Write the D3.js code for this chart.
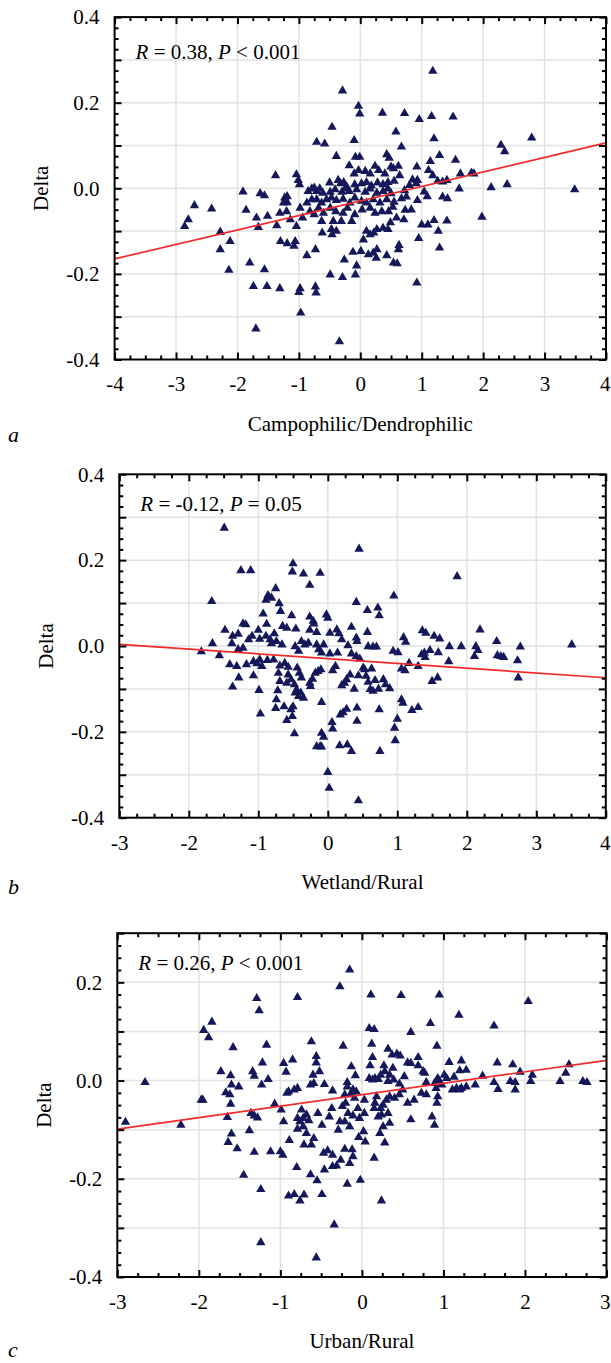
<!DOCTYPE html>
<html><head><meta charset="utf-8">
<script src="https://cdn.jsdelivr.net/npm/d3@7"></script>
<style>body{margin:0;background:#fff}svg{display:block}text{font-family:"Liberation Serif","DejaVu Serif","Times New Roman",serif;fill:#000}</style>
</head><body><svg id="chart" width="611" height="1363"></svg>
<script>
// ---------- data ----------
const pointsA = [
[-0.29,0.231],[-0.03,0.195],[-0.01,0.177],[0.36,0.179],[-0.46,0.146],[-0.71,0.111],[-0.58,0.107],[-0.10,0.115],[-0.39,0.078],[-0.08,0.076],[-0.01,0.076],[0.43,0.082],[-1.38,0.033],[-1.04,0.035],[-1.01,0.022],[-0.99,0.012],[-0.18,0.056],
[-0.10,0.037],[-0.03,0.045],[0.08,0.043],[0.16,0.037],[0.24,0.055],[0.30,0.045],[0.40,0.037],
[-0.50,0.016],[-0.36,0.022],[-0.32,0.014],[-0.27,0.017],[-0.22,0.006],[-0.09,0.012],[0.02,0.014],[0.10,0.017],[0.18,0.009],[0.28,0.016],[0.37,0.012],[0.45,0.017],
[-1.91,-0.005],[-1.63,-0.009],[-1.56,-0.014],[-1.23,-0.019],[-1.19,-0.016],[-0.85,-0.004],[-0.79,0.002],[-0.75,0.004],[-0.71,-0.004],[-0.66,0.002],[-0.61,-0.008],[-0.49,-0.006],[-0.41,0.000],[-0.30,-0.006],[-0.25,0.002],[-0.18,-0.004],[-0.06,0.000],[0.08,-0.006],[0.16,0.002],[0.27,-0.008],[0.37,-0.004],[0.45,0.002],
[-1.25,-0.031],[-1.19,-0.030],[-0.98,-0.043],[-0.87,-0.031],[-0.79,-0.023],[-0.71,-0.023],[-0.63,-0.031],[-0.55,-0.023],[-0.47,-0.019],[-0.39,-0.025],[-0.28,-0.022],[-0.17,-0.031],[-0.09,-0.019],[0.02,-0.027],[0.10,-0.031],[0.21,-0.023],[0.32,-0.031],[0.43,-0.023],
[-2.70,-0.037],[-2.42,-0.045],[-1.86,-0.048],[-1.31,-0.055],[-1.20,-0.051],[-0.94,-0.066],[-0.82,-0.051],[-0.75,-0.058],[-0.68,-0.043],[-0.60,-0.055],[-0.49,-0.043],[-0.40,-0.051],[-0.28,-0.055],[-0.21,-0.043],[-0.09,-0.058],[0.03,-0.047],[0.16,-0.043],[0.24,-0.055],[0.35,-0.051],[0.46,-0.051],
[-2.80,-0.070],[-1.69,-0.066],[-1.51,-0.062],[-1.14,-0.070],[-0.63,-0.074],[-0.44,-0.074],[-0.31,-0.074],[-0.14,-0.074],
[-2.86,-0.086],[-2.28,-0.099],[-1.66,-0.088],[-1.36,-0.084],[-1.04,-0.086],[-0.62,-0.101],[-0.47,-0.093],[-0.46,-0.105],[-0.39,-0.097],[0.05,-0.117],[0.10,-0.097],[0.16,-0.105],[0.22,-0.101],[0.27,-0.093],[0.37,-0.090],[0.45,-0.093],
[-2.12,-0.121],[-2.28,-0.140],[-1.30,-0.121],[-1.19,-0.126],[-1.08,-0.132],[-1.06,-0.121],[-0.73,-0.140],[-0.87,-0.154],[-0.12,-0.146],[0.01,-0.144],[0.13,-0.152],[0.21,-0.148],[0.27,-0.140],[0.26,-0.160],[0.43,-0.154],
[-1.80,-0.171],[-2.14,-0.188],[-1.56,-0.187],[-0.26,-0.164],[-0.06,-0.178],[-0.08,-0.199],[-0.49,-0.199],[-0.29,-0.205],[-1.74,-0.226],[-1.52,-0.226],[-1.31,-0.231],[-0.98,-0.231],[-1.00,-0.240],[-0.73,-0.227],[-0.72,-0.241],
[-0.97,-0.288],[-1.70,-0.325],[-0.34,-0.355],
[1.18,0.277],[0.72,0.178],[0.96,0.164],[1.16,0.171],[1.51,0.170],[0.58,0.135],[1.20,0.119],[0.67,0.100],[2.79,0.121],[2.29,0.104],[2.35,0.089],[1.29,0.080],[1.55,0.069],[1.14,0.066],[0.47,0.074],[0.50,0.053],[0.62,0.055],[0.92,0.053],[0.54,0.049],[1.11,0.045],[0.64,0.033],[1.18,0.033],[1.63,0.037],[1.81,0.039],[1.85,0.037],[0.85,0.023],[0.93,0.022],[0.55,0.020],[1.26,0.020],[1.34,0.018],[1.41,0.022],[2.13,0.005],[2.39,0.012],[3.49,0.000],[1.61,0.002],[0.80,0.010],[0.91,0.014],[1.04,-0.005],[1.09,-0.016],[0.72,-0.002],[0.67,-0.021],[0.93,-0.025],[0.75,-0.017],[0.50,-0.009],[1.34,-0.017],[1.42,-0.021],[0.53,-0.041],[0.55,-0.029],[0.73,-0.048],[0.83,-0.047],[0.59,-0.066],[0.71,-0.070],[0.49,-0.077],[1.00,-0.082],[1.10,-0.082],[1.20,-0.072],[1.41,-0.073],[1.27,-0.097],[1.98,-0.064],[0.95,-0.114],[0.63,-0.130],[0.62,-0.140],[1.29,-0.136],[0.54,-0.171],[0.60,-0.173],[0.92,-0.218]
];
const pointsB = [
[-1.49,0.278],[0.45,0.229],[-1.25,0.179],[-1.11,0.179],[-0.50,0.195],[-0.51,0.176],[-0.35,0.171],[-0.11,0.173],[-0.26,0.145],[0.95,0.120],[-1.67,0.107],[-0.75,0.137],[-0.86,0.121],[-0.89,0.110],[-0.81,0.115],[-0.70,0.102],[-0.68,0.084],[0.41,0.105],[0.57,0.086],[0.72,0.092],[0.74,0.074],[-0.93,0.078],[-0.52,0.074],[-0.26,0.071],[-0.21,0.061],[-0.20,0.055],[-0.02,0.076],[0.00,0.068],[-0.88,0.054],[-1.22,0.055],[-1.18,0.053],[-1.48,0.040],[-1.00,0.040],[-0.65,0.049],[-0.59,0.045],[-0.46,0.043],[-0.26,0.040],[-0.16,0.035],[0.03,0.033],[0.13,0.041],[0.16,0.032],[0.20,0.018],[0.34,0.047],[0.41,0.022],[0.42,0.014],[0.57,0.035],[1.09,0.023],
[-1.37,0.026],[-1.29,0.031],[-1.38,0.009],[-1.66,0.009],[-1.14,0.018],[-1.09,0.026],[-0.98,0.019],[-0.89,0.026],[-0.83,0.018],[-0.77,0.032],[-0.74,0.014],[-0.81,0.009],[-0.66,0.006],[-0.47,0.002],[-0.42,-0.009],[-0.38,0.014],[-0.33,0.006],[-0.28,0.010],[-0.16,0.006],[-0.13,-0.005],[-0.06,0.006],[-0.09,-0.013],[0.03,-0.015],[0.14,-0.013],[0.29,0.004],[0.34,-0.015],[0.41,-0.021],[0.46,-0.027],[0.58,0.002],[0.70,0.001],[0.65,0.001],[0.94,-0.009],[1.01,-0.012],[-1.82,-0.010],[-1.56,-0.019],[-1.29,-0.005],[-1.22,-0.002],
[-1.41,-0.040],[-1.31,-0.044],[-1.17,-0.040],[-1.07,-0.033],[-1.02,-0.038],[-0.95,-0.044],[-0.98,-0.029],[-0.87,-0.030],[-0.78,-0.029],[-0.69,-0.043],[-0.62,-0.037],[-0.57,-0.046],[-1.28,-0.071],[-1.37,-0.092],[-1.07,-0.066],[-0.99,-0.100],[-0.97,-0.155],[-0.71,-0.060],[-0.69,-0.079],[-0.72,-0.101],[-0.59,-0.083],[-0.57,-0.064],[-0.53,-0.075],[-0.48,-0.087],[-0.47,-0.106],[-0.45,-0.099],[-0.42,-0.114],[-0.39,-0.106],[-0.35,-0.118],[-0.44,-0.048],[-0.41,-0.060],[-0.38,-0.071],[-0.26,-0.083],[-0.22,-0.074],[-0.18,-0.060],[-0.14,-0.056],[-0.10,-0.052],[-0.25,-0.091],[-0.74,-0.122],[-0.75,-0.142],[-0.63,-0.138],[-0.53,-0.145],[-0.50,-0.138],[-0.51,-0.161],[-0.59,-0.170],[-0.48,-0.201],[-0.09,-0.128],[0.07,-0.054],[0.11,-0.044],[0.20,-0.089],[0.24,-0.083],[0.27,-0.075],[0.32,-0.064],[0.38,-0.097],[0.44,-0.066],[0.53,-0.052],[0.55,-0.067],[0.58,-0.081],[0.61,-0.098],[0.65,-0.102],[0.68,-0.077],[0.73,-0.097],[0.80,-0.075],[0.83,-0.087],[0.89,-0.096],[0.51,-0.048],[0.63,-0.050],[0.18,-0.157],[0.22,-0.152],[0.27,-0.144],[0.42,-0.141],[0.42,-0.172],[0.74,-0.145],[0.06,-0.175],[0.07,-0.190],[-0.09,-0.200],[-0.06,-0.209],[-0.16,-0.231],[-0.11,-0.231],[-0.09,-0.232],[0.17,-0.229],[0.28,-0.227],[0.34,-0.242],[0.75,-0.242],[0.00,-0.291],[0.02,-0.328],[0.44,-0.357],[0.96,-0.188],[1.00,-0.167],[0.97,-0.217],[1.06,-0.122],[1.08,-0.130],
[1.86,0.165],[2.19,0.041],[1.36,0.039],[1.41,0.033],[1.53,0.026],[1.61,0.020],[1.12,0.012],[1.75,0.002],[1.92,0.002],[2.13,0.002],[2.16,-0.007],[2.43,0.014],[2.77,0.001],[3.51,0.006],[1.35,-0.017],[1.39,-0.013],[1.40,-0.023],[1.47,-0.007],[1.59,-0.012],[1.74,-0.033],[2.11,-0.021],[2.44,-0.019],[2.49,-0.021],[2.53,-0.023],[2.73,-0.031],[2.74,-0.071],[1.17,-0.037],[1.30,-0.044],[1.50,-0.079],[1.58,-0.071],[1.06,-0.050],[1.11,-0.054],[1.21,-0.147],[1.30,-0.140]
];
const pointsC = [
[-2.90,-0.082],[-2.66,-0.001],[-2.22,-0.088],[-1.97,-0.037],[-1.95,-0.037],[-1.94,0.105],[-1.88,0.090],[-1.84,0.122],[-1.58,0.070],[-1.73,0.021],[-1.61,0.013],[-1.67,-0.022],[-1.60,-0.006],[-1.62,-0.026],[-1.61,-0.045],[-1.51,-0.010],[-1.65,-0.072],[-1.60,-0.106],[-1.64,-0.123],[-1.53,-0.136],[-1.45,-0.190],[-1.38,-0.099],[-1.29,0.170],[-1.26,0.145],[-1.22,0.039],[-1.34,0.021],[-1.32,0.012],[-1.23,-0.006],[-1.15,0.005],[-1.17,0.075],[-1.36,-0.064],[-1.32,-0.069],[-1.28,-0.073],[-1.32,-0.143],[-1.12,-0.142],[-1.24,-0.219],[-1.24,-0.327],[-1.07,-0.045],[-1.00,-0.142],[-0.97,-0.149],[-0.99,-0.057],[-0.96,-0.081],[-0.96,0.038],[-0.93,0.020],[-0.85,0.045],[-0.92,-0.023],[-0.90,-0.020],[-0.83,-0.016],[-0.79,-0.013],[-0.89,-0.119],[-0.80,-0.174],[-0.90,-0.232],[-0.83,-0.229],[-0.76,-0.242],[-0.71,-0.230],[-0.62,0.082],[-0.56,0.052],[-0.56,0.039],[-0.52,0.021],[-0.60,0.014],[-0.63,-0.006],[-0.59,-0.003],[-0.46,-0.005],[-0.36,-0.018],[-0.23,0.073],[-0.27,0.194],[-0.15,0.228],[-0.79,0.172],[-0.74,-0.057],[-0.72,-0.074],[-0.68,-0.067],[-0.65,-0.079],[-0.79,-0.074],[-0.76,-0.081],[-0.72,-0.091],[-0.79,-0.096],[-0.68,-0.105],[-0.71,-0.128],[-0.62,-0.128],[-0.59,-0.115],[-0.54,-0.064],[-0.49,-0.088],[-0.40,-0.071],[-0.37,-0.054],[-0.47,-0.145],[-0.42,-0.140],[-0.36,-0.149],[-0.46,-0.179],[-0.63,-0.189],[-0.55,-0.201],[-0.49,-0.229],[-0.34,-0.291],[-0.56,-0.358],[-0.36,-0.172],[-0.31,-0.171],[-0.26,-0.159],[-0.18,-0.208],[-0.15,-0.166],[-0.12,-0.138],[-0.21,-0.137],[-0.11,-0.152],[-0.29,-0.098],[-0.21,-0.081],[-0.15,-0.091],[-0.27,-0.081],[-0.20,-0.043],[-0.17,-0.064],[-0.11,-0.069],[-0.05,-0.054],[-0.24,-0.050],[-0.14,-0.026],[-0.21,-0.026],[-0.09,-0.033],[-0.18,-0.001],[-0.07,-0.020],[-0.11,-0.016],[-0.13,0.031],[-0.08,0.013],[-0.18,-0.010],[-0.02,-0.200],
[0.11,0.177],[0.48,0.176],[0.95,0.177],[2.04,0.164],[1.19,0.136],[0.84,0.119],[1.62,0.114],[0.09,0.109],[0.15,0.107],[0.60,0.101],[0.12,0.077],[0.92,0.073],[0.32,0.067],[0.37,0.055],[0.43,0.057],[0.47,0.053],[0.13,0.050],[0.10,0.033],[0.69,0.050],[0.56,0.039],[0.60,0.038],[0.69,0.033],[0.75,0.021],[0.77,0.018],[1.07,0.040],[1.22,0.043],[1.20,0.023],[1.28,0.024],[0.27,0.033],[0.38,0.028],[0.28,0.021],[0.23,0.014],[0.09,0.007],[0.16,0.007],[0.20,0.005],[0.13,0.004],[0.32,0.001],[0.39,0.004],[0.52,0.011],[0.46,-0.004],[0.34,0.014],[0.93,0.007],[1.01,0.014],[1.04,0.007],[1.13,0.010],[0.79,-0.001],[0.89,-0.003],[0.91,-0.013],[0.95,0.001],[0.98,-0.006],[1.11,-0.016],[1.16,-0.013],[1.20,-0.016],[1.22,-0.013],[1.28,-0.010],[1.39,-0.006],[1.48,0.012],[1.62,-0.001],[1.67,-0.015],[1.82,0.001],[1.88,-0.001],[1.88,-0.016],[1.66,0.039],[1.85,0.035],[1.94,0.020],[2.09,0.014],[2.07,0.001],[2.43,0.001],[2.50,0.018],[2.54,0.035],[2.71,0.001],[2.76,-0.001],[0.03,-0.037],[0.03,-0.064],[-0.03,-0.074],[-0.04,-0.113],[0.02,-0.101],[0.04,-0.122],[0.15,-0.054],[0.16,-0.043],[0.18,-0.030],[0.20,-0.071],[0.24,-0.067],[0.26,-0.091],[0.22,-0.105],[0.15,-0.155],[0.23,-0.054],[0.26,-0.047],[0.30,-0.037],[0.34,-0.030],[0.32,-0.064],[0.34,-0.084],[0.28,-0.124],[0.24,-0.242],[0.40,-0.033],[0.46,-0.026],[0.50,-0.016],[0.56,-0.043],[0.60,-0.077],[0.64,-0.037],[0.73,-0.023],[0.79,-0.026],[0.86,-0.071],[0.89,-0.088],[0.92,-0.043],[0.93,-0.030]
];
// regression line end points [x, y]
const fitA = [[-4,-0.165],[4,0.106]];
const fitB = [[-3,0.004],[4,-0.074]];
const fitC = [[-3,-0.099],[3,0.041]];
// tick labels
const xTicksA = [-4,-3,-2,-1,0,1,2,3,4];
const xTicksB = [-3,-2,-1,0,1,2,3,4];
const xTicksC = [-3,-2,-1,0,1,2,3];
const yTicksA = [-0.4,-0.2,0.0,0.2,0.4];
const yTicksB = [-0.4,-0.2,0.0,0.2,0.4];
const yTicksC = [-0.4,-0.2,0.0,0.2];
const statsA = ["R"," = 0.38, ","P"," < 0.001"];
const statsB = ["R"," = -0.12, ","P"," = 0.05"];
const statsC = ["R"," = 0.26, ","P"," < 0.001"];
const xTitles = ["Campophilic/Dendrophilic","Wetland/Rural","Urban/Rural"];
const yTitle = "Delta";
const letters = ["a","b","c"];

// ---------- layout ----------
const panels = [
  {pts:pointsA, fit:fitA, xd:[-4,4], yd:[-0.4,0.4], xt:xTicksA, yt:yTicksA, stats:statsA, xTitle:xTitles[0], letter:letters[0],
   L:114.6, R:606, T:17.1, B:359.5, statsY:59, letterY:442},
  {pts:pointsB, fit:fitB, xd:[-3,4], yd:[-0.4,0.4], xt:xTicksB, yt:yTicksB, stats:statsB, xTitle:xTitles[1], letter:letters[1],
   L:119.3, R:605.8, T:474.3, B:817.7, statsY:511, letterY:894},
  {pts:pointsC, fit:fitC, xd:[-3,3], yd:[-0.4,0.3], xt:xTicksC, yt:yTicksC, stats:statsC, xTitle:xTitles[2], letter:letters[2],
   L:117.3, R:606.5, T:933.2, B:1277, statsY:970, letterY:1357}
];

const FONT = "Liberation Serif, DejaVu Serif, Times New Roman, serif";
const svg = d3.select("#chart");
svg.append("rect").attr("width",611).attr("height",1363).attr("fill","#fff");
const fmtY = d => d3.format(".1f")(d).replace("\u2212","-");
const fmtX = d => String(d).replace("\u2212","-");
const range = (a,b,s) => { const n = Math.round((b-a)/s); return d3.range(n+1).map(i => +(a+i*s).toFixed(4)); };

panels.forEach(p => {
  const x = d3.scaleLinear().domain(p.xd).range([p.L,p.R]);
  const y = d3.scaleLinear().domain(p.yd).range([p.B,p.T]);
  const g = svg.append("g").attr("font-family",FONT);

  // grid
  const gx = range(p.xd[0],p.xd[1],1).slice(1,-1);
  const gy = range(p.yd[0],p.yd[1],0.1).slice(1,-1);
  g.append("g").selectAll("line").data(gx).join("line")
    .attr("x1",d=>x(d)).attr("x2",d=>x(d)).attr("y1",p.T).attr("y2",p.B)
    .attr("stroke","#e2e2e2").attr("stroke-width",1.5);
  g.append("g").selectAll("line").data(gy).join("line")
    .attr("y1",d=>y(d)).attr("y2",d=>y(d)).attr("x1",p.L).attr("x2",p.R)
    .attr("stroke","#e2e2e2").attr("stroke-width",1.5);

  // points
  g.append("g").selectAll("path").data(p.pts).join("path")
    .attr("d", d3.symbol(d3.symbolTriangle, 38))
    .attr("transform", d => `translate(${x(d[0])},${y(d[1])+1.3})`)
    .attr("fill","#14185a");

  // fit line
  g.append("line")
    .attr("x1",x(p.fit[0][0])).attr("y1",y(p.fit[0][1]))
    .attr("x2",x(p.fit[1][0])).attr("y2",y(p.fit[1][1]))
    .attr("stroke","#f42a2a").attr("stroke-width",1.7);

  // ticks (inward, all four sides)
  const xMaj = range(p.xd[0],p.xd[1],1), xMin = range(p.xd[0],p.xd[1],0.25).filter(v=>Math.abs(v-Math.round(v))>1e-6);
  const yMaj = range(p.yd[0],p.yd[1],0.1), yMin = range(p.yd[0],p.yd[1],0.025).filter(v=>Math.abs(v*10-Math.round(v*10))>1e-6);
  const tickAxis = (axisFn, scale, vals, len, tr) => {
    const a = g.append("g").attr("transform",tr)
      .call(axisFn(scale).tickValues(vals).tickSize(-len).tickSizeOuter(0).tickFormat(""));
    a.select(".domain").remove();
    a.selectAll("line").attr("stroke","#000").attr("stroke-width",2);
  };
  tickAxis(d3.axisBottom, x, xMaj, 7, `translate(0,${p.B})`);
  tickAxis(d3.axisBottom, x, xMin, 4, `translate(0,${p.B})`);
  tickAxis(d3.axisTop, x, xMaj, 7, `translate(0,${p.T})`);
  tickAxis(d3.axisTop, x, xMin, 4, `translate(0,${p.T})`);
  tickAxis(d3.axisLeft, y, yMaj, 7, `translate(${p.L},0)`);
  tickAxis(d3.axisLeft, y, yMin, 4, `translate(${p.L},0)`);
  tickAxis(d3.axisRight, y, yMaj, 7, `translate(${p.R},0)`);
  tickAxis(d3.axisRight, y, yMin, 4, `translate(${p.R},0)`);

  // frame
  g.append("rect").attr("x",p.L).attr("y",p.T).attr("width",p.R-p.L).attr("height",p.B-p.T)
    .attr("fill","none").attr("stroke","#000").attr("stroke-width",2);

  // tick labels
  const xl = g.append("g").attr("transform",`translate(0,${p.B})`)
    .call(d3.axisBottom(x).tickValues(p.xt).tickSize(0).tickPadding(17).tickFormat(fmtX));
  xl.select(".domain").remove();
  xl.attr("font-family",FONT).attr("font-size",21);
  xl.selectAll("text").attr("font-size",21).attr("font-family",FONT).attr("fill","#000");
  // keep the right-most label inside the page
  xl.selectAll("text").filter(d => x(d) > 600).attr("text-anchor","end").attr("dx", function(){
    const w = this.getComputedTextLength(); return Math.min(w/2, 610 - 0) ? (w/2 - Math.max(0, w/2 - (610 - 600))) - 0 : 0; });
  xl.selectAll("text").filter(d => x(d) > 600).attr("text-anchor","middle").attr("dx", function(d){
    const w = this.getComputedTextLength(); const over = x(d) + w/2 - 610; return over > 0 ? -over : 0; });
  const yl = g.append("g").attr("transform",`translate(${p.L},0)`)
    .call(d3.axisLeft(y).tickValues(p.yt).tickSize(0).tickPadding(15).tickFormat(fmtY));
  yl.select(".domain").remove();
  yl.attr("font-family",FONT).attr("font-size",21);
  yl.selectAll("text").attr("font-size",21).attr("font-family",FONT).attr("fill","#000");

  // axis titles
  g.append("text").attr("x",(p.L+p.R)/2).attr("y",p.B+71).attr("text-anchor","middle")
    .attr("font-size",21).text(p.xTitle);
  g.append("text").attr("transform",`translate(${p.L-74},${(p.T+p.B)/2}) rotate(-90)`)
    .attr("text-anchor","middle").attr("dy","0.35em").attr("font-size",21).text(yTitle);

  // stats annotation
  const st = g.append("text").attr("x",p.L+21).attr("y",p.statsY).attr("font-size",21);
  p.stats.forEach((s,i) => st.append("tspan").attr("font-style", i%2===0 ? "italic" : "normal").text(s));

  // panel letter
  g.append("text").attr("x",8).attr("y",p.letterY).attr("font-size",22).attr("font-style","italic").text(p.letter);
});
</script></body></html>
